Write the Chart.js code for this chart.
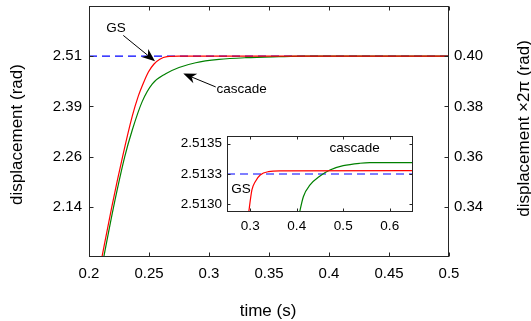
<!DOCTYPE html>
<html><head><meta charset="utf-8">
<script src="https://cdn.jsdelivr.net/npm/chart.js@4/dist/chart.umd.min.js"></script>
<style>
html,body{margin:0;padding:0;background:#fff;}
#wrap{position:relative;width:531px;height:321px;overflow:hidden;background:#fff;}
#main{position:absolute;left:0;top:0;}
#inset{position:absolute;left:160px;top:128px;}
</style></head><body>
<div id="wrap"><canvas id="main" width="531" height="321"></canvas><canvas id="inset" width="270" height="110"></canvas></div>
<script>
// ---------- data (main plot) ----------
const timeTicks = [0.2, 0.25, 0.3, 0.35, 0.4, 0.45, 0.5];
const timeTickLabels = ['0.2', '0.25', '0.3', '0.35', '0.4', '0.45', '0.5'];
const radTicks = [2.13628, 2.26195, 2.38761, 2.51327];
const radTickLabels = ['2.14', '2.26', '2.39', '2.51'];
const cycleTicks = [0.34, 0.36, 0.38, 0.40];
const cycleTickLabels = ['0.34', '0.36', '0.38', '0.40'];

const gsTime = [0.2100, 0.2190, 0.2280, 0.2360, 0.2410, 0.2455, 0.2495, 0.2540, 0.2590, 0.2650, 0.2750, 0.5000];
const gsRad  = [1.99805, 2.13628, 2.26195, 2.36248, 2.41274, 2.44730, 2.47369, 2.49317, 2.50574, 2.51202, 2.51327, 2.51327];

const cascadeTime = [0.2115, 0.2205, 0.2298, 0.2360, 0.2444, 0.2528, 0.2639, 0.2750, 0.2889, 0.3083, 0.3306, 0.3583, 0.3800, 0.5000];
const cascadeRad  = [1.99805, 2.13628, 2.26195, 2.32792, 2.40018, 2.44416, 2.46929, 2.48500, 2.49694, 2.50511, 2.50951, 2.51202, 2.51327, 2.51327];

const refTime = [0.2, 0.5];
const refRad  = [2.51327, 2.51327];

// ---------- data (inset) ----------
const insetTimeTicks = [0.3, 0.4, 0.5, 0.6];
const insetTimeTickLabels = ['0.3', '0.4', '0.5', '0.6'];
const insetRadTicks = [2.51300, 2.51325, 2.51350];
const insetRadTickLabels = ['2.5130', '2.5133', '2.5135'];

const insetGsTime = [0.2955, 0.3036, 0.3107, 0.3214, 0.3392, 0.3643, 0.6500];
const insetGsRad  = [2.512900, 2.513119, 2.513187, 2.513242, 2.513269, 2.513275, 2.513277];
const insetCascadeTime = [0.4040, 0.4142, 0.4286, 0.4500, 0.4714, 0.4999, 0.5357, 0.5571, 0.6500];
const insetCascadeRad  = [2.512900, 2.513064, 2.513160, 2.513234, 2.513283, 2.513318, 2.513338, 2.513343, 2.513343];
const insetRefTime = [0.25, 0.65];
const insetRefRad  = [2.51325, 2.51325];

// ---------- helpers ----------
const FONT = '"Liberation Sans", Arial, Helvetica, sans-serif';
const pts = (xs, ys) => xs.map((x, i) => ({x: x, y: ys[i]}));
const RED = '#ff0000', GREEN = '#008000', BLUE = '#0000ff', FRAME = '#262626';

function fixedTicks(values) {
  return s => { s.ticks = values.map(v => ({value: v})); };
}

function drawArrow(ctx, x0, y0, x1, y1) {
  const ang = Math.atan2(y1 - y0, x1 - x0);
  const L = 13, W = 5.2;
  const bx = x1 - L * Math.cos(ang), by = y1 - L * Math.sin(ang);
  const nx = x1 - 0.7 * L * Math.cos(ang), ny = y1 - 0.7 * L * Math.sin(ang);
  ctx.save();
  ctx.strokeStyle = '#000'; ctx.fillStyle = '#000'; ctx.lineWidth = 1;
  ctx.beginPath(); ctx.moveTo(x0, y0); ctx.lineTo(nx, ny); ctx.stroke();
  ctx.beginPath();
  ctx.moveTo(x1, y1);
  ctx.lineTo(bx + W * Math.sin(ang), by - W * Math.cos(ang));
  ctx.lineTo(nx, ny);
  ctx.lineTo(bx - W * Math.sin(ang), by + W * Math.cos(ang));
  ctx.closePath(); ctx.fill();
  ctx.restore();
}

function drawFrameTicks(chart, xId, yIds, len) {
  const ctx = chart.ctx, a = chart.chartArea;
  const L = Math.round(a.left) + 0.5, R = Math.round(a.right) - 0.5;
  const T = Math.round(a.top) + 0.5, B = Math.round(a.bottom) - 0.5;
  ctx.save();
  ctx.strokeStyle = FRAME; ctx.lineWidth = 1;
  ctx.strokeRect(L, T, R - L, B - T);
  ctx.beginPath();
  const xs = chart.scales[xId];
  xs.ticks.forEach(t => {
    const px = Math.round(xs.getPixelForValue(t.value)) + 0.5;
    ctx.moveTo(px, B); ctx.lineTo(px, B - len);
    ctx.moveTo(px, T); ctx.lineTo(px, T + len);
  });
  yIds.forEach(([id, side]) => {
    const ys = chart.scales[id];
    ys.ticks.forEach(t => {
      const py = Math.round(ys.getPixelForValue(t.value)) + 0.5;
      if (side !== 'right') { ctx.moveTo(L, py); ctx.lineTo(L + len, py); }
      if (side !== 'left') { ctx.moveTo(R, py); ctx.lineTo(R - len, py); }
    });
  });
  ctx.stroke();
  ctx.restore();
}

// ---------- main chart ----------
const mainPlugin = {
  id: 'mainDecor',
  afterDraw(chart) {
    const ctx = chart.ctx;
    drawFrameTicks(chart, 'x', [['y', 'left'], ['y1', 'right']], 4);
    const xs = chart.scales.x, y1 = chart.scales.y1;
    const P = (t, c) => [xs.getPixelForValue(t), y1.getPixelForValue(c)];
    ctx.save();
    ctx.fillStyle = '#000';
    ctx.font = '13.5px ' + FONT;
    ctx.textAlign = 'center'; ctx.textBaseline = 'middle';
    let p = P(0.2225, 0.41108); ctx.fillText('GS', p[0], p[1]);
    p = P(0.32725, 0.38696); ctx.fillText('cascade', p[0], p[1]);
    const a0 = P(0.22858, 0.40828), a1 = P(0.2550, 0.3980);
    drawArrow(ctx, a0[0], a0[1], a1[0], a1[1]);
    const b0 = P(0.30560, 0.38776), b1 = P(0.27858, 0.39308);
    drawArrow(ctx, b0[0], b0[1], b1[0], b1[1]);
    // axis titles
    const a = chart.chartArea;
    ctx.font = '17px ' + FONT;
    ctx.fillText('time (s)', (a.left + a.right) / 2 - 1, 311);
    ctx.save(); ctx.translate(17, (a.top + a.bottom) / 2 + 3); ctx.rotate(-Math.PI / 2);
    ctx.fillText('displacement (rad)', 0, 0); ctx.restore();
    ctx.save(); ctx.translate(524, (a.top + a.bottom) / 2 - 3); ctx.rotate(-Math.PI / 2);
    ctx.fillText('displacement \u00d72\u03c0 (rad)', 0, 0); ctx.restore();
    ctx.restore();
  }
};

const tickFont = {family: FONT, size: 15};
new Chart(document.getElementById('main'), {
  type: 'line',
  data: {
    datasets: [
      {label: 'GS', data: pts(gsTime, gsRad), borderColor: RED, borderWidth: 1.2, pointRadius: 0, cubicInterpolationMode: 'monotone', yAxisID: 'y'},
      {label: 'cascade', data: pts(cascadeTime, cascadeRad), borderColor: GREEN, borderWidth: 1.2, pointRadius: 0, cubicInterpolationMode: 'monotone', yAxisID: 'y'},
      {label: 'reference', data: pts(refTime, refRad), borderColor: BLUE, borderWidth: 1.2, borderDash: [8, 5], pointRadius: 0, yAxisID: 'y'}
    ]
  },
  options: {
    responsive: false, animation: false, devicePixelRatio: 1,
    layout: {padding: {top: 6, left: 0, right: 0, bottom: 0}},
    plugins: {legend: {display: false}, tooltip: {enabled: false}},
    scales: {
      x: {type: 'linear', min: 0.2, max: 0.5,
        grid: {display: false, drawTicks: false}, border: {display: false},
        afterBuildTicks: fixedTicks(timeTicks),
        ticks: {font: tickFont, color: '#000', padding: 8, autoSkip: false, maxRotation: 0,
          callback: (v, i) => timeTickLabels[i]},
        afterFit: s => { s.height = 64; s.paddingLeft = 0; s.paddingRight = 0; }},
      y: {type: 'linear', position: 'left', min: 2.010619, max: 2.638938,
        grid: {display: false, drawTicks: false}, border: {display: false},
        afterBuildTicks: fixedTicks(radTicks),
        ticks: {font: tickFont, color: '#000', padding: 7, callback: (v, i) => radTickLabels[i]},
        afterFit: s => { s.width = 89; s.paddingTop = 0; s.paddingBottom = 0; }},
      y1: {type: 'linear', position: 'right', min: 0.32, max: 0.42,
        grid: {display: false, drawTicks: false}, border: {display: false},
        afterBuildTicks: fixedTicks(cycleTicks),
        ticks: {font: tickFont, color: '#000', padding: 5, callback: (v, i) => cycleTickLabels[i]},
        afterFit: s => { s.width = 82; s.paddingTop = 0; s.paddingBottom = 0; }}
    }
  },
  plugins: [mainPlugin]
});

// ---------- inset chart ----------
const insetPlugin = {
  id: 'insetDecor',
  beforeDatasetsDraw(chart) {
    const a = chart.chartArea, ctx = chart.ctx;
    ctx.save(); ctx.fillStyle = '#fff';
    ctx.fillRect(a.left, a.top, a.right - a.left, a.bottom - a.top);
    ctx.restore();
  },
  afterDraw(chart) {
    const ctx = chart.ctx;
    drawFrameTicks(chart, 'x', [['y', 'both']], 3);
    const xs = chart.scales.x, ys = chart.scales.y;
    ctx.save();
    ctx.fillStyle = '#000';
    ctx.font = '13.5px ' + FONT;
    ctx.textAlign = 'center'; ctx.textBaseline = 'middle';
    ctx.fillText('GS', xs.getPixelForValue(0.2801), ys.getPixelForValue(2.513127));
    ctx.fillText('cascade', xs.getPixelForValue(0.5243), ys.getPixelForValue(2.513463));
    ctx.restore();
  }
};

const insetFont = {family: FONT, size: 13.5};
new Chart(document.getElementById('inset'), {
  type: 'line',
  data: {
    datasets: [
      {label: 'GS', data: pts(insetGsTime, insetGsRad), borderColor: RED, borderWidth: 1.2, pointRadius: 0, cubicInterpolationMode: 'monotone'},
      {label: 'cascade', data: pts(insetCascadeTime, insetCascadeRad), borderColor: GREEN, borderWidth: 1.2, pointRadius: 0, cubicInterpolationMode: 'monotone'},
      {label: 'reference', data: pts(insetRefTime, insetRefRad), borderColor: BLUE, borderWidth: 1.2, borderDash: [8, 5], pointRadius: 0}
    ]
  },
  options: {
    responsive: false, animation: false, devicePixelRatio: 1,
    layout: {padding: {top: 8, left: 0, right: 17, bottom: 0}},
    plugins: {legend: {display: false}, tooltip: {enabled: false}},
    scales: {
      x: {type: 'linear', min: 0.25, max: 0.65,
        grid: {display: false, drawTicks: false}, border: {display: false},
        afterBuildTicks: fixedTicks(insetTimeTicks),
        ticks: {font: insetFont, color: '#000', padding: 6, autoSkip: false, maxRotation: 0,
          callback: (v, i) => insetTimeTickLabels[i]},
        afterFit: s => { s.height = 26; s.paddingLeft = 0; s.paddingRight = 0; }},
      y: {type: 'linear', position: 'left', min: 2.5129385, max: 2.5135615,
        grid: {display: false, drawTicks: false}, border: {display: false},
        afterBuildTicks: fixedTicks(insetRadTicks),
        ticks: {font: insetFont, color: '#000', padding: 5, callback: (v, i) => insetRadTickLabels[i]},
        afterFit: s => { s.width = 67; s.paddingTop = 0; s.paddingBottom = 0; }}
    }
  },
  plugins: [insetPlugin]
});
</script>
</body></html>
